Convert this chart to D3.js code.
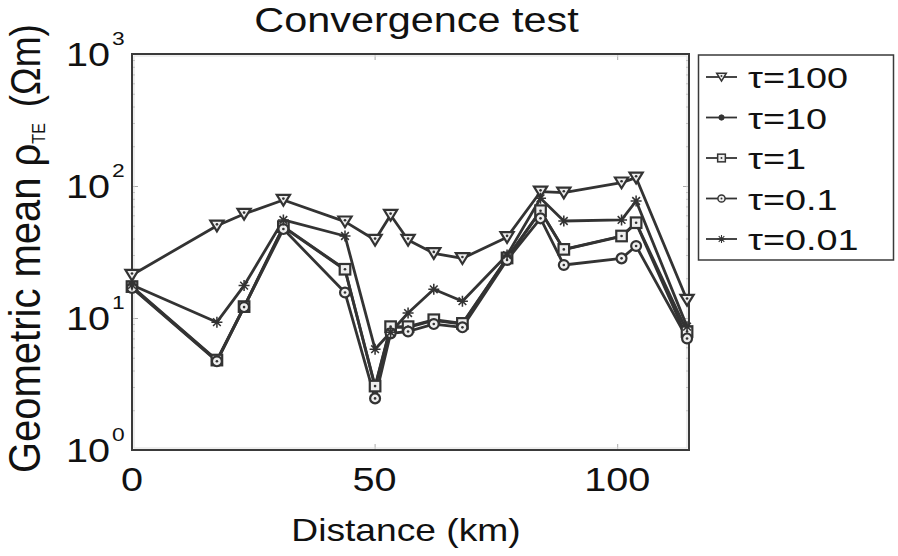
<!DOCTYPE html>
<html>
<head>
<meta charset="utf-8">
<script src="https://cdn.jsdelivr.net/npm/d3@7"></script>
<style>
  html, body { margin: 0; padding: 0; background: #fff; }
  svg { display: block; }
  text { font-family: "Liberation Sans", Arial, Helvetica, sans-serif; fill: #111; }
</style>
</head>
<body>
<div id="chart"></div>
<script>
// ---- data ----
const distance = [0, 17.5, 23.1, 31.2, 43.9, 50.1, 53.3, 56.9, 62.2, 68.1, 77.3, 84.2, 89.0, 100.9, 103.9, 114.4];
const tau100  = [21.2, 50, 61.4, 78.3, 53.7, 39, 60.3, 39, 30.9, 28.3, 40.9, 90.5, 89, 106, 115.6, 13.7];
const tau10   = [17.1, 4.75, 12.1, 48.8, 23.2, 3.0, 8.5, 8.5, 9.6, 9.0, 28.3, 64.5, 33.0, 41.5, 52.3, 7.1];
const tau1    = [17.3, 4.8, 12.2, 49.2, 23.4, 3.05, 8.6, 8.6, 9.7, 9.1, 28.5, 65, 33.1, 41.8, 52.7, 7.9];
const tau01   = [16.9, 4.7, 12.1, 47.2, 15.6, 2.46, 7.65, 7.9, 9.0, 8.5, 27.5, 56.9, 25.2, 28.3, 35.1, 7.0];
const tau001  = [17.8, 9.3, 17.6, 55.3, 41.8, 5.8, 7.8, 10.9, 16.5, 13.4, 30, 80.7, 54.3, 55.3, 77, 8.6];
const seriesNames = ["τ=100", "τ=10", "τ=1", "τ=0.1", "τ=0.01"];
const seriesMarkers = ["triangle", "dot", "square", "circle", "plus"];
const xTicks = [0, 50, 100];
const yDecades = [0, 1, 2, 3];

const W = 898, H = 556;
const svg = d3.select("#chart").append("svg").attr("width", W).attr("height", H);
svg.append("rect").attr("width", W).attr("height", H).attr("fill", "#fff");

const L = 132, R = 689, T = 54, B = 450;
const x = d3.scaleLinear().domain([0, 114.8]).range([L, R]);
const y = d3.scaleLog().domain([1, 1000]).range([B, T]);

const ink = "#333";

// minor log ticks
const minor = [];
[1, 10, 100].forEach(d => { for (let k = 2; k <= 9; k++) minor.push(d * k); });
const major = yDecades.map(e => Math.pow(10, e));

function styleAxis(g) {
  g.select(".domain").remove();
  g.selectAll("line").attr("stroke", "#aaa").attr("stroke-width", 1);
  g.selectAll("text").remove();
}
svg.append("g").attr("transform", `translate(${L},0)`)
  .call(d3.axisLeft(y).tickValues(minor).tickSize(-3)).call(styleAxis);
svg.append("g").attr("transform", `translate(${L},0)`)
  .call(d3.axisLeft(y).tickValues(major).tickSize(-6)).call(styleAxis);
svg.append("g").attr("transform", `translate(${R},0)`)
  .call(d3.axisRight(y).tickValues(minor).tickSize(-3)).call(styleAxis);
svg.append("g").attr("transform", `translate(${R},0)`)
  .call(d3.axisRight(y).tickValues(major).tickSize(-6)).call(styleAxis);
svg.append("g").attr("transform", `translate(0,${B})`)
  .call(d3.axisBottom(x).tickValues(xTicks).tickSize(-6)).call(styleAxis);
svg.append("g").attr("transform", `translate(0,${T})`)
  .call(d3.axisTop(x).tickValues(xTicks).tickSize(-6)).call(styleAxis);

// frame
svg.append("rect").attr("x", L + 2).attr("y", T + 2).attr("width", R - L - 4).attr("height", B - T - 4)
  .attr("fill", "none").attr("stroke", "#ddd").attr("stroke-width", 1);
svg.append("rect").attr("x", L).attr("y", T).attr("width", R - L).attr("height", B - T)
  .attr("fill", "none").attr("stroke", "#3a3a3a").attr("stroke-width", 2);

// y tick labels
yDecades.forEach(e => {
  const yy = y(Math.pow(10, e));
  svg.append("text").attr("text-anchor", "end").attr("font-size", 33)
    .attr("transform", `translate(110,${yy + 12}) scale(1.2,1)`).text("10");
  svg.append("text").attr("text-anchor", "start").attr("font-size", 19)
    .attr("transform", `translate(112,${yy - 9}) scale(1.2,1)`).text(e);
});
// x tick labels
xTicks.forEach(v => {
  svg.append("text").attr("text-anchor", "middle").attr("font-size", 33)
    .attr("transform", `translate(${x(v)},491) scale(1.2,1)`).text(v);
});

// title and axis labels
svg.append("text").attr("text-anchor", "middle").attr("font-size", 36)
  .attr("transform", "translate(416.5,31.5) scale(1.15,1)").text("Convergence test");
svg.append("text").attr("text-anchor", "middle").attr("font-size", 31)
  .attr("transform", "translate(406,541) scale(1.2,1)").text("Distance (km)");
const yl = svg.append("text").attr("text-anchor", "start").attr("font-size", 40)
  .attr("transform", "translate(40,473) scale(1.13,1) rotate(-90)");
yl.append("tspan").text("Geometric mean ρ");
yl.append("tspan").attr("font-size", 16).attr("dy", 4).text("TE");
yl.append("tspan").attr("font-size", 37).attr("dy", -4).attr("dx", 16).text("(Ωm)");

// series
const allSeries = [tau100, tau10, tau1, tau01, tau001];
const line = d3.line().x(d => x(d[0])).y(d => y(d[1]));

function drawMarker(g, type, size, sw) {
  if (type === "triangle") {
    const h = size * 0.85, w = size * 0.6;
    g.append("path").attr("d", `M${-w},${-h * 0.55}L${w},${-h * 0.55}L0,${h * 0.6}Z`)
      .attr("fill", "#eee").attr("stroke", ink).attr("stroke-width", sw);
    g.append("circle").attr("r", size * 0.12).attr("cy", -h * 0.15).attr("fill", ink);
  } else if (type === "square") {
    const s = size * 0.48;
    g.append("rect").attr("x", -s).attr("y", -s).attr("width", 2 * s).attr("height", 2 * s)
      .attr("fill", "#eee").attr("stroke", ink).attr("stroke-width", sw);
    g.append("circle").attr("r", size * 0.12).attr("fill", ink);
  } else if (type === "circle") {
    g.append("circle").attr("r", size * 0.45).attr("fill", "#eee").attr("stroke", ink).attr("stroke-width", sw);
    g.append("circle").attr("r", size * 0.12).attr("fill", ink);
  } else if (type === "dot") {
    g.append("circle").attr("r", size * 0.33).attr("fill", ink).attr("stroke", ink).attr("stroke-width", 1);
  } else if (type === "plus") {
    const s = size * 0.5, t = size * 0.35;
    g.append("path").attr("d", `M${-s},0L${s},0M0,${-s}L0,${s}M${-t},${-t}L${t},${t}M${-t},${t}L${t},${-t}`)
      .attr("stroke", ink).attr("stroke-width", sw * 0.7).attr("fill", "none");
  }
}

allSeries.forEach((vals, i) => {
  const pts = distance.map((d, j) => [d, vals[j]]);
  svg.append("path").datum(pts).attr("d", line)
    .attr("fill", "none").attr("stroke", ink).attr("stroke-width", 2.8).attr("stroke-linejoin", "round");
});
allSeries.forEach((vals, i) => {
  distance.forEach((d, j) => {
    const g = svg.append("g").attr("transform", `translate(${x(d)},${y(vals[j])})`);
    drawMarker(g, seriesMarkers[i], 11, 2.2);
  });
});

// legend
svg.append("rect").attr("x", 698.5).attr("y", 55).attr("width", 195).attr("height", 205)
  .attr("fill", "#fff").attr("stroke", "#3a3a3a").attr("stroke-width", 1.5);
seriesNames.forEach((name, i) => {
  const cy = 77 + 40.5 * i;
  svg.append("line").attr("x1", 706).attr("x2", 737).attr("y1", cy).attr("y2", cy)
    .attr("stroke", ink).attr("stroke-width", 1.8);
  const g = svg.append("g").attr("transform", `translate(721.5,${cy})`);
  drawMarker(g, seriesMarkers[i], 8, 1.5);
  svg.append("text").attr("font-size", 30).attr("text-anchor", "start")
    .attr("transform", `translate(748,${cy + 11}) scale(1.26,1)`).text(name);
});
</script>
</body>
</html>
